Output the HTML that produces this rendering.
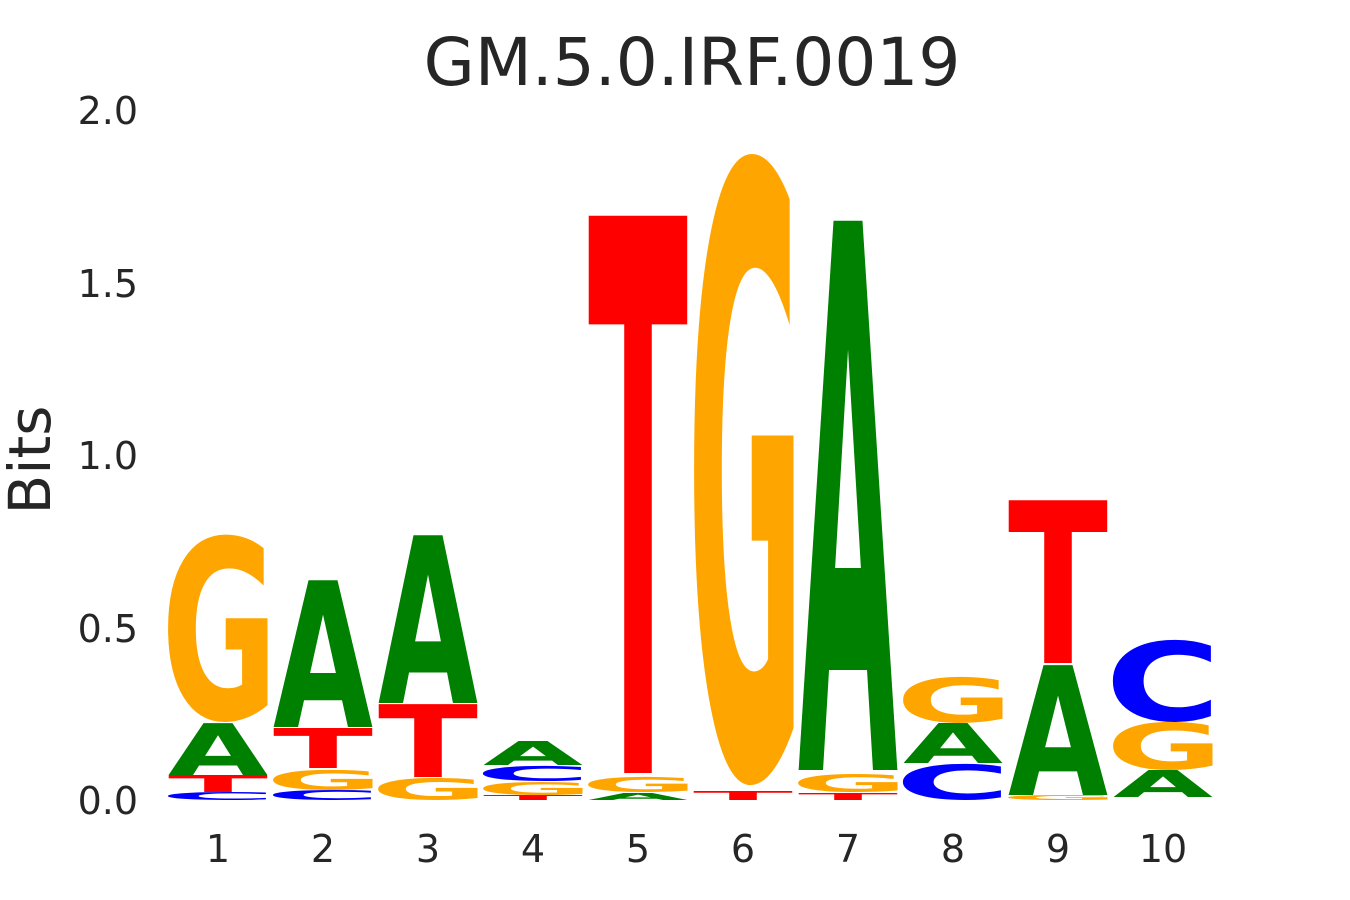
<!DOCTYPE html>
<html><head><meta charset="utf-8"><style>
html,body{margin:0;padding:0;background:#fff;overflow:hidden;width:1350px;height:900px;}
svg{display:block;}
svg text{font-family:"DejaVu Sans","Liberation Sans",sans-serif;}
.l{font-size:100px;font-weight:bold;}
.A{fill:#008000}.C{fill:#0000ff}.G{fill:#ffa500}.T{fill:#ff0000}
.tk{font-size:38px;fill:#262626;}
</style></head><body>
<svg width="1350" height="900" xmlns="http://www.w3.org/2000/svg">
<rect width="1350" height="900" fill="#fff"/>
<text x="692" y="85" text-anchor="middle" font-size="66" fill="#262626">GM.5.0.IRF.0019</text>
<text transform="translate(50,460) rotate(-90)" text-anchor="middle" font-size="58" fill="#262626">Bits</text>
<g class="tk" text-anchor="end">
<text x="138" y="124">2.0</text>
<text x="138" y="297">1.5</text>
<text x="138" y="469">1.0</text>
<text x="138" y="642">0.5</text>
<text x="138" y="814">0.0</text>
</g>
<g class="tk" text-anchor="middle">
<text x="218" y="862">1</text><text x="323" y="862">2</text><text x="428" y="862">3</text>
<text x="533" y="862">4</text><text x="638" y="862">5</text><text x="743" y="862">6</text>
<text x="848" y="862">7</text><text x="953" y="862">8</text><text x="1058" y="862">9</text>
<text x="1163" y="862">10</text>
</g>
<g class="l">
<text class="C" transform="translate(160,799.85) scale(1,0.106)" textLength="116" lengthAdjust="spacingAndGlyphs">C</text>
<text class="T" transform="translate(168,792) scale(1,0.233)" textLength="100" lengthAdjust="spacingAndGlyphs">T</text>
<text class="A" transform="translate(168,775) scale(1,0.712)" textLength="100" lengthAdjust="spacingAndGlyphs">A</text>
<text class="G" transform="translate(161,718.5) scale(1,2.477)" textLength="117" lengthAdjust="spacingAndGlyphs">G</text>

<text class="C" transform="translate(265,799.8) scale(1,0.132)" textLength="116" lengthAdjust="spacingAndGlyphs">C</text>
<text class="G" transform="translate(266,789.6) scale(1,0.265)" textLength="117" lengthAdjust="spacingAndGlyphs">G</text>
<text class="T" transform="translate(273,768) scale(1,0.548)" textLength="100" lengthAdjust="spacingAndGlyphs">T</text>
<text class="A" transform="translate(273,727) scale(1,2.014)" textLength="100" lengthAdjust="spacingAndGlyphs">A</text>

<text class="G" transform="translate(371,799.6) scale(1,0.291)" textLength="117" lengthAdjust="spacingAndGlyphs">G</text>
<text class="T" transform="translate(378,777) scale(1,1.0)" textLength="100" lengthAdjust="spacingAndGlyphs">T</text>
<text class="A" transform="translate(378,703) scale(1,2.301)" textLength="100" lengthAdjust="spacingAndGlyphs">A</text>

<text class="T" transform="translate(483,800) scale(1,0.068)" textLength="100" lengthAdjust="spacingAndGlyphs">T</text>
<text class="G" transform="translate(476,794.8) scale(1,0.172)" textLength="117" lengthAdjust="spacingAndGlyphs">G</text>
<text class="C" transform="translate(475,780.7) scale(1,0.199)" textLength="116" lengthAdjust="spacingAndGlyphs">C</text>
<text class="A" transform="translate(483,765) scale(1,0.329)" textLength="100" lengthAdjust="spacingAndGlyphs">A</text>

<text class="A" transform="translate(588,800) scale(1,0.096)" textLength="100" lengthAdjust="spacingAndGlyphs">A</text>
<text class="G" transform="translate(581,791.7) scale(1,0.199)" textLength="117" lengthAdjust="spacingAndGlyphs">G</text>
<text class="T" transform="translate(588,773) scale(1,7.644)" textLength="100" lengthAdjust="spacingAndGlyphs">T</text>

<text class="T" transform="translate(693,800) scale(1,0.123)" textLength="100" lengthAdjust="spacingAndGlyphs">T</text>
<text class="G" transform="translate(687,773.3) scale(1,8.344)" textLength="117" lengthAdjust="spacingAndGlyphs">G</text>

<text class="T" transform="translate(798,800) scale(1,0.096)" textLength="100" lengthAdjust="spacingAndGlyphs">T</text>
<text class="G" transform="translate(791,791.7) scale(1,0.238)" textLength="117" lengthAdjust="spacingAndGlyphs">G</text>
<text class="A" transform="translate(798,770) scale(1,7.534)" textLength="100" lengthAdjust="spacingAndGlyphs">A</text>

<text class="C" transform="translate(895,799.3) scale(1,0.477)" textLength="116" lengthAdjust="spacingAndGlyphs">C</text>
<text class="A" transform="translate(903,763) scale(1,0.548)" textLength="100" lengthAdjust="spacingAndGlyphs">A</text>
<text class="G" transform="translate(896,722.1) scale(1,0.609)" textLength="117" lengthAdjust="spacingAndGlyphs">G</text>

<text class="G" transform="translate(1001,799.9) scale(1,0.066)" textLength="117" lengthAdjust="spacingAndGlyphs">G</text>
<text class="A" transform="translate(1008,795) scale(1,1.781)" textLength="100" lengthAdjust="spacingAndGlyphs">A</text>
<text class="T" transform="translate(1008,663) scale(1,2.233)" textLength="100" lengthAdjust="spacingAndGlyphs">T</text>

<text class="A" transform="translate(1113,797) scale(1,0.37)" textLength="100" lengthAdjust="spacingAndGlyphs">A</text>
<text class="G" transform="translate(1106,769.1) scale(1,0.636)" textLength="117" lengthAdjust="spacingAndGlyphs">G</text>
<text class="C" transform="translate(1105,720.5) scale(1,1.086)" textLength="116" lengthAdjust="spacingAndGlyphs">C</text>
</g>
</svg>
</body></html>
